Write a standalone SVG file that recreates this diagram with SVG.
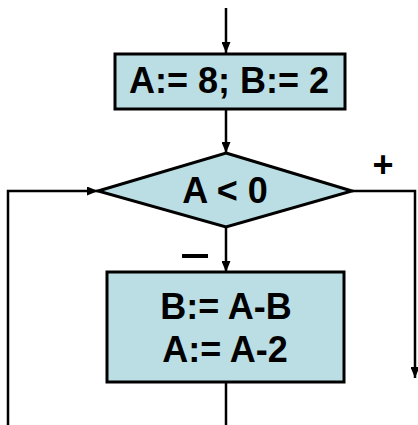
<svg xmlns="http://www.w3.org/2000/svg" width="418" height="425" viewBox="0 0 418 425">
<defs>
<marker id="ah" markerWidth="11" markerHeight="9" refX="11" refY="4.5" orient="auto" markerUnits="userSpaceOnUse">
<path d="M0,0 L11,4.5 L0,9 Z" fill="#000"/>
</marker>
<style>
.shape{fill:#badee3;stroke:#000;stroke-width:3}
.conn{fill:none;stroke:#000;stroke-width:2.5}
.t{font-family:"Liberation Sans",Arial,sans-serif;font-weight:bold;fill:#000;text-anchor:middle;font-size:36px}
.plus{font-size:36px}
</style>
</defs>
<rect width="418" height="425" fill="#fff"/>
<g id="connectors">
<line class="conn" x1="226" y1="8" x2="226" y2="53" marker-end="url(#ah)"/>
<line class="conn" x1="226" y1="109" x2="226" y2="153" marker-end="url(#ah)"/>
<line class="conn" x1="226" y1="227" x2="226" y2="272" marker-end="url(#ah)"/>
<line class="conn" x1="226" y1="382" x2="226" y2="425"/>
<polyline class="conn" points="8,425 8,191 98,191" marker-end="url(#ah)"/>
<polyline class="conn" points="352,191 415,191 415,378" marker-end="url(#ah)"/>
</g>
<g id="init">
<rect class="shape" x="115" y="54" width="230" height="55"/>
<text class="t" x="229" y="93">A:= 8; B:= 2</text>
</g>
<g id="cond">
<polygon class="shape" points="226,153 352,191 226,227 98,191"/>
<text class="t" x="225" y="203">A &lt; 0</text>
</g>
<g id="body">
<rect class="shape" x="107" y="272" width="237" height="110"/>
<text class="t" x="226" y="319">B:= A-B</text>
<text class="t" x="225" y="362">A:= A-2</text>
</g>
<g id="labels">
<text class="t plus" x="383" y="177">+</text>
<line x1="182" y1="256" x2="208" y2="256" stroke="#000" stroke-width="4"/>
</g>
</svg>
